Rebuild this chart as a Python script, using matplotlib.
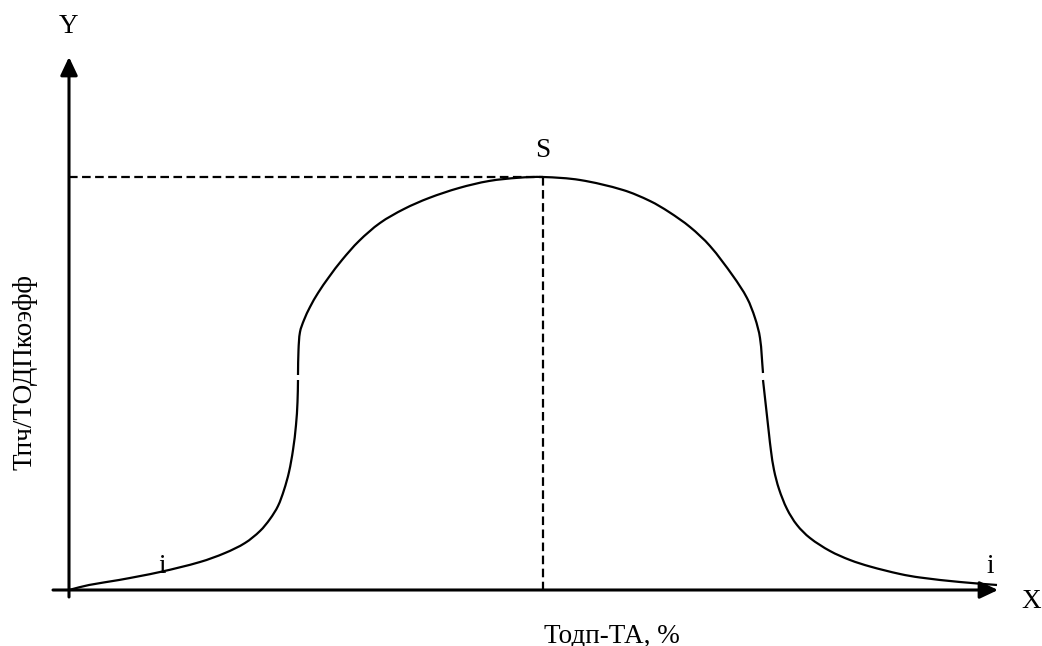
import matplotlib
matplotlib.use("Agg")
import matplotlib.pyplot as plt
from matplotlib.path import Path
from matplotlib.patches import PathPatch

# Units: distance from the origin of the drawn axes (schematic chart, no scale)
left_x = [0, 20, 50, 91, 131, 156, 176, 191, 201, 209, 215, 220, 224, 227, 228.5, 229]
left_y = [0, 5, 10, 18, 28, 37, 47, 59, 71, 84, 100, 118, 140, 165, 188, 210]

arc_x = [229, 229.5, 231, 235, 241, 249, 260, 273, 290, 311, 335, 360, 390, 420, 450, 474,
         511, 554, 581, 600, 621, 641, 664, 678, 686, 691, 694]
arc_y = [215, 240, 258, 270, 283, 297, 313, 330, 349, 367, 381, 392, 402, 409, 412.3, 413,
         410, 400, 389, 378, 363, 344, 314, 292, 272, 252, 217]

right_x = [694, 696, 698, 700, 702, 705, 710, 718, 728, 741, 761, 781, 801, 831, 851, 891, 928]
right_y = [210, 192, 174, 156, 139, 120, 101, 81, 65, 52, 39, 30, 23.5, 16, 12.5, 8, 5]

peak_x, peak_y = 474, 413
x_axis_end = 929
y_axis_end = 533

x_label = "Тодп-ТА, %"
y_label = "Тпч/ТОДПкоэфф"


def smooth_path(xs, ys):
    """Smooth cubic Bezier through the read points (chord-length tangents)"""
    pts = list(zip(xs, ys))
    n = len(pts)

    def dist(a, b):
        return ((a[0] - b[0]) ** 2 + (a[1] - b[1]) ** 2) ** 0.5

    tangents = []
    for i in range(n):
        p0 = pts[max(i - 1, 0)]
        p2 = pts[min(i + 1, n - 1)]
        span = dist(p0, pts[i]) + dist(pts[i], p2)
        tangents.append(((p2[0] - p0[0]) / span, (p2[1] - p0[1]) / span))

    verts = [pts[0]]
    codes = [Path.MOVETO]
    for i in range(n - 1):
        p1, p2 = pts[i], pts[i + 1]
        d = dist(p1, p2) / 3
        t1, t2 = tangents[i], tangents[i + 1]
        verts += [(p1[0] + t1[0] * d, p1[1] + t1[1] * d),
                  (p2[0] - t2[0] * d, p2[1] - t2[1] * d), p2]
        codes += [Path.CURVE4] * 3
    return Path(verts, codes)


def main() -> int:
    plt.rcParams["font.family"] = ["Liberation Serif", "DejaVu Serif"]
    plt.rcParams["lines.scale_dashes"] = False

    fig = plt.figure(figsize=(10.42, 6.46), dpi=100)
    ax = fig.add_axes([0, 0, 1, 1])
    ax.set_xlim(-69, 1042 - 69)
    ax.set_ylim(-56, 590)
    ax.axis("off")

    # axes with arrows
    arrow = dict(arrowstyle="-|>,head_length=0.55,head_width=0.26", lw=2.2,
                 color="black", shrinkA=0, shrinkB=0, mutation_scale=20)
    ax.annotate("", xy=(0, y_axis_end), xytext=(0, -7), arrowprops=arrow)
    ax.annotate("", xy=(x_axis_end, 0), xytext=(-16, 0), arrowprops=arrow)

    # dashed guides to the peak
    dash = (6.2, 3.2)
    ax.plot([0, peak_x], [peak_y, peak_y], color="black", lw=1.6, dashes=dash)
    ax.plot([peak_x, peak_x], [peak_y, 0], color="black", lw=1.6, dashes=dash)

    # curve (drawn in three pieces, as in the original)
    for xs, ys in ((left_x, left_y), (arc_x, arc_y), (right_x, right_y)):
        ax.add_patch(PathPatch(smooth_path(xs, ys), facecolor="none",
                               edgecolor="black", lw=1.6, capstyle="butt"))

    fs = 19.5
    ax.text(-1, 557, "Y", fontsize=fs, ha="center", va="baseline")
    ax.text(962, -18, "X", fontsize=fs, ha="center", va="baseline")
    ax.text(474, 433, "S", fontsize=fs, ha="center", va="baseline")
    ax.text(93, 17, "i", fontsize=fs, ha="center", va="baseline")
    ax.text(921, 17, "i", fontsize=fs, ha="center", va="baseline")
    ax.text(543, -52, x_label, fontsize=fs, ha="center", va="baseline")
    ax.text(-37, 218, y_label, fontsize=fs, ha="center", va="baseline",
            rotation=90, rotation_mode="anchor")

    fig.savefig("out.png", dpi=100, facecolor="white")
    return 0


if __name__ == "__main__":
    main()
